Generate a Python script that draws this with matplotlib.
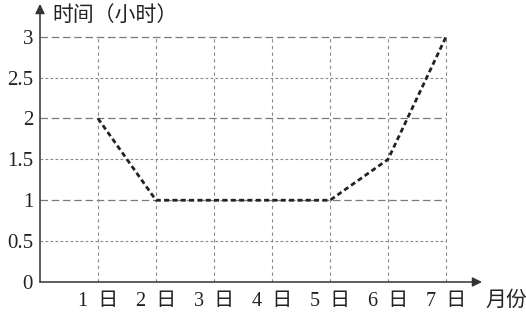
import matplotlib
matplotlib.use("Agg")
import matplotlib.pyplot as plt

plt.rcParams['font.family'] = ['Liberation Serif', 'Noto Sans CJK SC']

# 数据
months = [1, 2, 3, 4, 5, 6, 7]
month_labels = ["1  日", "2  日", "3  日", "4  日", "5  日", "6  日", "7  日"]
hours = [2, 1, 1, 1, 1, 1.5, 3]
y_ticks = [0, 0.5, 1, 1.5, 2, 2.5, 3]
y_labels = ["0", "0.5", "1", "1.5", "2", "2.5", "3"]
y_title = "时间（小时）"
x_title = "月份"

fig = plt.figure(figsize=(5.26, 3.14), dpi=100)
ax = fig.add_axes([40 / 526, 32 / 314, 442 / 526, 278 / 314])
ax.set_xlim(0, 7.62)
ax.set_ylim(0, 3.40)

for s in ax.spines.values():
    s.set_visible(False)

# 网格线
for y in y_ticks[1:]:
    if y == int(y):
        ax.hlines(y, 0, months[-1], colors='#7a7a7a', lw=0.9, linestyles=(0, (6, 3)))
    else:
        ax.hlines(y, 0, months[-1], colors='#8a8a8a', lw=0.8, linestyles=(0, (2.5, 2)))
ax.vlines(months, 0, y_ticks[-1], colors='#8a8a8a', lw=0.8, linestyles=(0, (3, 3)))

# 折线
ax.plot(months, hours, color='#222222', lw=2.0, linestyle=(0, (1.8, 1.2)))

# 坐标轴箭头
arrow = dict(arrowstyle='-|>', color='#333333', lw=1.1, mutation_scale=14, shrinkA=0, shrinkB=0)
ax.annotate('', xy=(7.62, 0), xytext=(0, 0), arrowprops=arrow, annotation_clip=False)
ax.annotate('', xy=(0, 3.40), xytext=(0, 0), arrowprops=arrow, annotation_clip=False)

ax.set_xticks(months)
ax.set_xticklabels(month_labels, fontsize=14.5, color='#222222')
ax.set_yticks(y_ticks)
ax.set_yticklabels(y_labels, fontsize=15, color='#222222')
ax.tick_params(axis='x', length=0, pad=7)
ax.tick_params(axis='y', length=0, pad=5)

ax.annotate(y_title, xy=(0, 1), xycoords='axes fraction', xytext=(9, -8.6),
            textcoords='offset points', ha='left', va='center', fontsize=15, color='#222222')
ax.annotate(x_title, xy=(1, 0), xycoords='axes fraction', xytext=(2.5, -13.5),
            textcoords='offset points', ha='left', va='center', fontsize=15, color='#222222')

fig.savefig("out.png", dpi=100)
